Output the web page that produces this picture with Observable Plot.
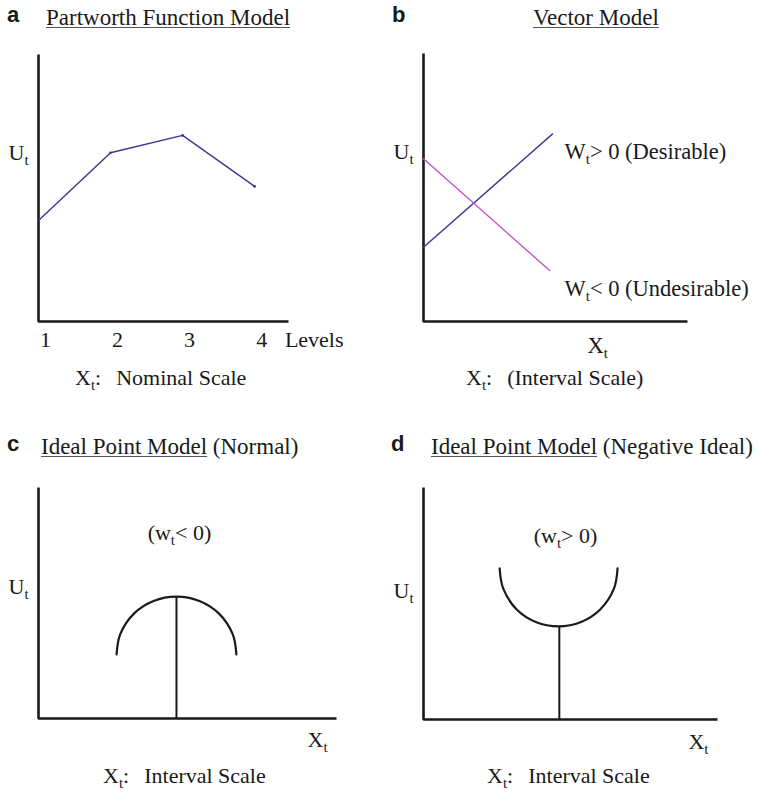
<!DOCTYPE html>
<html><head><meta charset="utf-8">
<script src="https://cdn.jsdelivr.net/npm/d3@7"></script>
<script src="https://cdn.jsdelivr.net/npm/@observablehq/plot@0.6"></script>
<style>
html,body{margin:0;padding:0;background:#fff;}
#root{position:relative;width:757px;height:792px;overflow:hidden;font-family:"Liberation Serif","Times New Roman",serif;color:#1a1a1a;background:#fff;}
.abs{position:absolute;white-space:nowrap;}
.letter{font-family:"Liberation Sans",Arial,sans-serif;font-weight:bold;font-size:22px;line-height:22px;}
.title{font-size:23px;line-height:23px;}
.u{text-decoration:underline;text-decoration-thickness:1px;text-underline-offset:2px;text-decoration-color:#555;}
.cap{font-size:22px;line-height:22px;}
.cap .rest{margin-left:4px;}
.sub{font-size:15px;position:relative;top:5px;}
</style></head>
<body><div id="root"></div>
<script>
// ---------- data ----------
const panelLetters = ["a", "b", "c", "d"];
const panelTitles = ["Partworth Function Model", "Vector Model", "Ideal Point Model", "Ideal Point Model"];
const titleSuffixes = ["", "", " (Normal)", " (Negative Ideal)"];
const captions = ["Nominal Scale", "(Interval Scale)", "Interval Scale", "Interval Scale"];

// (a) partworth function
const levels = [1, 2, 3, 4];
const partworths = [3.78, 6.32, 6.97, 5.06];

// (b) vector model
const desirableX = [0, 4.89];
const desirableU = [2.77, 7.00];
const undesirableX = [0, 4.78];
const undesirableU = [6.07, 1.90];

// (c) ideal point (normal) – arc
const normalArcX = [2.62, 2.74, 3.21, 3.86, 4.63, 5.40, 6.05, 6.52, 6.64];
const normalArcU = [2.77, 3.64, 4.55, 5.09, 5.28, 5.09, 4.55, 3.64, 2.77];
const normalIdeal = [{x: 4.63, u: 5.28}];

// (d) ideal point (negative ideal)
const negArcX = [2.59, 2.71, 3.17, 3.82, 4.59, 5.36, 6.01, 6.48, 6.60];
const negArcU = [6.51, 5.65, 4.74, 4.20, 4.01, 4.20, 4.74, 5.65, 6.51];
const negIdeal = [{x: 4.62, u: 4.01}];

// in-plot labels (data coordinates)
const labelsA = [{x: 4.42, u: 0, label: "Levels"}];
const utilA = [{u: 6.3, label: "U_t"}];
const labelsB = [
  {x: 5.34, u: 6.34, label: "W_t> 0 (Desirable)"},
  {x: 5.34, u: 1.23, label: "W_t< 0 (Undesirable)"},
  {x: 6.21, u: -0.9, label: "X_t"}
];
const utilB = [{u: 6.34, label: "U_t"}];
const labelsC = [{x: 9.03, u: -0.95, label: "X_t"}];
const weightC = [{x: 4.73, u: 8.05, label: "(w_t< 0)"}];
const utilC = [{u: 5.71, label: "U_t"}];
const labelsD = [{x: 9.01, u: -0.95, label: "X_t"}];
const weightD = [{x: 4.83, u: 7.93, label: "(w_t> 0)"}];
const utilD = [{u: 5.56, label: "U_t"}];

// ---------- helpers ----------
const root = document.getElementById("root");
const INK = "#1a1a1a";
const BLUE = "#3d3592";
const MAGENTA = "#c852c0";
const NS = "http://www.w3.org/2000/svg";

function subscripts(svg) {
  svg.querySelectorAll("text").forEach(t => {
    const s = t.textContent;
    if (!s.includes("_t")) return;
    const parts = s.split("_t");
    t.textContent = "";
    parts.forEach((p, i) => {
      if (i > 0) {
        const sub = document.createElementNS(NS, "tspan");
        sub.setAttribute("font-size", "15");
        sub.setAttribute("dy", "5");
        sub.textContent = "t";
        t.appendChild(sub);
      }
      if (p) {
        const sp = document.createElementNS(NS, "tspan");
        if (i > 0) sp.setAttribute("dy", "-5");
        sp.textContent = p;
        t.appendChild(sp);
      }
    });
  });
}

function utilLabel(data) {
  return Plot.text(data, {y: "u", text: "label", frameAnchor: "left", textAnchor: "start", dx: -30, fill: INK, fontSize: 22});
}

function panel(cfg) {
  const [x0, x1] = cfg.xDomain;
  const axisPts = [{x: x0, u: 10}, {x: x0, u: 0}, {x: x1, u: 0}];
  const svg = Plot.plot({
    width: cfg.width, height: cfg.height,
    marginLeft: cfg.ml, marginRight: cfg.mr, marginTop: cfg.mt, marginBottom: cfg.mb,
    x: {domain: cfg.xDomain, axis: null},
    y: {domain: [0, 10], axis: null},
    style: {fontFamily: '"Liberation Serif", "Times New Roman", serif', fontSize: "22px", color: INK, background: "transparent", overflow: "visible"},
    marks: [
      Plot.line(axisPts, {x: "x", y: "u", stroke: INK, strokeWidth: 2.6, strokeLinejoin: "miter", strokeLinecap: "butt"}),
      ...cfg.marks
    ]
  });
  subscripts(svg);
  svg.style.position = "absolute";
  svg.style.left = cfg.left + "px";
  svg.style.top = cfg.top + "px";
  svg.style.maxWidth = "none";
  root.appendChild(svg);
}

function html(cls, left, top, inner) {
  const d = document.createElement("div");
  d.className = "abs " + cls;
  d.style.left = left + "px";
  d.style.top = top + "px";
  d.innerHTML = inner;
  root.appendChild(d);
}

// ---------- panel a ----------
panel({
  left: 0, top: 40, width: 378, height: 320, ml: 38, mr: 90, mt: 14, mb: 39,
  xDomain: [1, 4.47],
  marks: [
    Plot.line(levels.map((l, i) => ({x: l, u: partworths[i]})), {x: "x", y: "u", stroke: BLUE, strokeWidth: 1.4}),
    Plot.dot(levels.map((l, i) => ({x: l, u: partworths[i]})), {x: "x", y: "u", r: 1.3, fill: BLUE}),
    Plot.axisX(levels, {tickSize: 0, tickPadding: 10, dx: 7, label: null, fontSize: 22, fill: INK}),
    Plot.text(labelsA, {x: "x", y: "u", text: "label", textAnchor: "start", lineAnchor: "top", dy: 10, fill: INK, fontSize: 22}),
    utilLabel(utilA)
  ]
});

// ---------- panel b ----------
panel({
  left: 380, top: 40, width: 377, height: 320, ml: 43, mr: 70, mt: 13, mb: 39,
  xDomain: [0, 10],
  marks: [
    Plot.line(desirableX.map((v, i) => ({x: v, u: desirableU[i]})), {x: "x", y: "u", stroke: BLUE, strokeWidth: 1.4}),
    Plot.line(undesirableX.map((v, i) => ({x: v, u: undesirableU[i]})), {x: "x", y: "u", stroke: MAGENTA, strokeWidth: 1.4}),
    Plot.text(labelsB, {x: "x", y: "u", text: "label", textAnchor: "start", fill: INK, fontSize: 22.5}),
    utilLabel(utilB)
  ]
});

// ---------- panel c ----------
panel({
  left: 0, top: 470, width: 378, height: 290, ml: 38, mr: 42, mt: 17, mb: 42,
  xDomain: [0, 10],
  marks: [
    Plot.line(normalArcX.map((v, i) => ({x: v, u: normalArcU[i]})), {x: "x", y: "u", curve: "catmull-rom", stroke: INK, strokeWidth: 2.2}),
    Plot.ruleX(normalIdeal, {x: "x", y1: 0, y2: "u", stroke: INK, strokeWidth: 2}),
    Plot.text(weightC, {x: "x", y: "u", text: "label", textAnchor: "middle", fill: INK, fontSize: 22}),
    Plot.text(labelsC, {x: "x", y: "u", text: "label", textAnchor: "start", fill: INK, fontSize: 22}),
    utilLabel(utilC)
  ]
});

// ---------- panel d ----------
panel({
  left: 380, top: 470, width: 377, height: 290, ml: 43, mr: 40, mt: 17, mb: 41,
  xDomain: [0, 10],
  marks: [
    Plot.line(negArcX.map((v, i) => ({x: v, u: negArcU[i]})), {x: "x", y: "u", curve: "catmull-rom", stroke: INK, strokeWidth: 2.2}),
    Plot.ruleX(negIdeal, {x: "x", y1: 0, y2: "u", stroke: INK, strokeWidth: 2}),
    Plot.text(weightD, {x: "x", y: "u", text: "label", textAnchor: "middle", fill: INK, fontSize: 22}),
    Plot.text(labelsD, {x: "x", y: "u", text: "label", textAnchor: "start", fill: INK, fontSize: 22}),
    utilLabel(utilD)
  ]
});

// ---------- titles & captions ----------
const letterPos = [[7, 4], [392, 4], [7, 433], [391, 433]];
const titlePos = [[46, 6], [533, 6], [41, 435], [431, 435]];
const capPos = [[75, 367], [466, 367], [103, 765], [487, 765]];
panelLetters.forEach((l, i) => {
  html("letter", letterPos[i][0], letterPos[i][1], l);
  html("title", titlePos[i][0], titlePos[i][1], `<span class="u">${panelTitles[i]}</span>${titleSuffixes[i]}`);
  html("cap", capPos[i][0], capPos[i][1], `X<span class="sub">t</span>:&nbsp;&nbsp;<span class="rest">${captions[i]}</span>`);
});
</script>
</body></html>
